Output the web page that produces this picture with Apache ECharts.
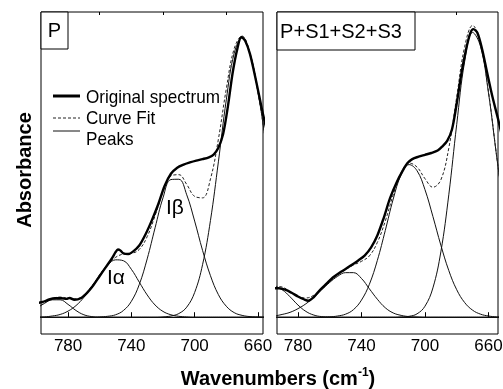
<!DOCTYPE html>
<html>
<head>
<meta charset="utf-8">
<script src="https://cdn.jsdelivr.net/npm/echarts@6/dist/echarts.min.js"></script>
<style>
  html, body { margin: 0; padding: 0; background: #fff; }
  #chart { width: 503px; height: 389px; }
</style>
</head>
<body>
<div id="chart"></div>
<script>
// wavenumber grid used by the fitted peaks (cm-1)
const wn = [800, 795, 790, 785, 780, 775, 770, 765, 760, 755, 750, 745, 740, 735, 730, 725,
  720, 715, 710, 705, 700, 695, 690, 685, 680, 675, 670, 665, 660, 655, 650];

// panel P : fitted peaks
const pPeak1 = [0.029, 0.045, 0.057, 0.057, 0.042, 0.022, 0.008, 0.002, 0, 0, 0, 0, 0, 0, 0, 0,
  0, 0, 0, 0, 0, 0, 0, 0, 0, 0, 0, 0, 0, 0, 0];
const pIalpha = [0, 0.001, 0.004, 0.009, 0.02, 0.038, 0.065, 0.1, 0.138, 0.17, 0.188, 0.185, 0.157, 0.115, 0.073, 0.04,
  0.019, 0.008, 0.003, 0.001, 0, 0, 0, 0, 0, 0, 0, 0, 0, 0, 0];
const pIbeta = [0, 0, 0, 0, 0, 0, 0, 0, 0.001, 0.003, 0.008, 0.022, 0.052, 0.107, 0.191, 0.293,
  0.391, 0.451, 0.452, 0.401, 0.315, 0.219, 0.136, 0.074, 0.036, 0.015, 0.006, 0.002, 0.001, 0, 0];
const pBig = [0, 0, 0, 0, 0, 0, 0, 0, 0, 0, 0, 0, 0, 0, 0, 0,
  0.001, 0.004, 0.012, 0.033, 0.081, 0.172, 0.317, 0.509, 0.712, 0.865, 0.915, 0.863, 0.738, 0.572, 0.403];
const pFit = [0.029, 0.046, 0.061, 0.066, 0.062, 0.06, 0.073, 0.102, 0.139, 0.173, 0.196, 0.207, 0.209, 0.222, 0.264, 0.333,
  0.411, 0.463, 0.467, 0.435, 0.396, 0.391, 0.453, 0.583, 0.748, 0.88, 0.921, 0.865, 0.739, 0.572, 0.403];
// panel P : original spectrum
const pOrigX = [800, 796, 792, 788, 784, 781, 779, 776, 772, 768, 764, 760, 756, 752, 750, 748.5, 747, 745, 742, 739,
  735, 731, 727, 723, 719, 715, 711, 707, 703, 699, 695, 691, 688, 685, 682, 679, 676, 673, 670.5, 668, 665, 661, 657, 653];
const pOrigY = [0.046, 0.05, 0.058, 0.062, 0.062, 0.06, 0.063, 0.057, 0.062, 0.08, 0.105, 0.135, 0.165, 0.195, 0.213, 0.222, 0.219, 0.209, 0.207, 0.215,
  0.235, 0.272, 0.318, 0.37, 0.43, 0.47, 0.49, 0.5, 0.507, 0.513, 0.518, 0.524, 0.533, 0.555, 0.6, 0.69, 0.8, 0.88, 0.918, 0.905, 0.862, 0.77, 0.67, 0.58];

// panel P+S1+S2+S3 : fitted peaks
const sPeak1 = [0.082, 0.097, 0.09, 0.067, 0.04, 0.019, 0.007, 0.002, 0.001, 0, 0, 0, 0, 0, 0, 0,
  0, 0, 0, 0, 0, 0, 0, 0, 0, 0, 0, 0, 0, 0, 0];
const sIalpha = [0.002, 0.004, 0.009, 0.016, 0.028, 0.044, 0.065, 0.09, 0.114, 0.134, 0.146, 0.146, 0.127, 0.093, 0.059, 0.031,
  0.014, 0.006, 0.002, 0.001, 0, 0, 0, 0, 0, 0, 0, 0, 0, 0, 0];
const sIbeta = [0, 0, 0, 0, 0, 0, 0, 0, 0.001, 0.004, 0.01, 0.025, 0.056, 0.108, 0.186, 0.284,
  0.387, 0.467, 0.5, 0.48, 0.418, 0.33, 0.236, 0.153, 0.09, 0.048, 0.023, 0.01, 0.004, 0.001, 0];
const sBig = [0, 0, 0, 0, 0, 0, 0, 0, 0, 0, 0, 0, 0, 0, 0, 0,
  0, 0.001, 0.003, 0.011, 0.036, 0.096, 0.214, 0.401, 0.632, 0.838, 0.933, 0.887, 0.735, 0.533, 0.338];
const sFit = [0.084, 0.101, 0.099, 0.083, 0.068, 0.063, 0.072, 0.092, 0.116, 0.138, 0.156, 0.171, 0.183, 0.201, 0.245, 0.315,
  0.401, 0.474, 0.505, 0.492, 0.454, 0.426, 0.45, 0.554, 0.722, 0.886, 0.956, 0.897, 0.739, 0.534, 0.338];
// panel P+S1+S2+S3 : original spectrum
const sOrigX = [800, 796, 792, 788, 784, 780, 776, 773.5, 770, 766, 762, 758, 754, 750, 746, 742, 738, 734, 730, 726,
  722, 718, 714, 711, 708, 704, 700, 696, 692, 689, 686, 683, 680, 677, 674, 671.5, 669.5, 667, 664, 661, 657.5, 654, 650];
const sOrigY = [0.09, 0.095, 0.095, 0.09, 0.08, 0.068, 0.058, 0.054, 0.066, 0.09, 0.11, 0.13, 0.145, 0.158, 0.172, 0.186, 0.202, 0.228, 0.268, 0.325,
  0.39, 0.44, 0.48, 0.505, 0.518, 0.526, 0.532, 0.538, 0.546, 0.56, 0.578, 0.615, 0.7, 0.8, 0.88, 0.93, 0.944, 0.932, 0.878, 0.805, 0.722, 0.65, 0.56];

const majorTicks = [780, 740, 700, 660];
const minorTicks = [760, 720, 680];
const panelLabels = ["P", "P+S1+S2+S3"];

const pairs = (xs, ys) => xs.map((x, i) => [x, ys[i]]);

const chart = echarts.init(document.getElementById("chart"));

const txtFont = "'Liberation Sans', Arial, sans-serif";

const xRanges = [
  [656.8, 797.1],
  [654.0, 793.2],
];

const xAxes = [];
const yAxes = [];
xRanges.forEach((r, g) => {
  xAxes.push({
    type: "value",
    gridIndex: g,
    min: r[0],
    max: r[1],
    inverse: true,
    axisLine: { lineStyle: { color: "#000", width: 1 } },
    axisTick: {
      inside: true,
      length: 5,
      customValues: majorTicks,
      lineStyle: { color: "#000" },
    },
    axisLabel: {
      customValues: majorTicks,
      margin: 4,
      fontSize: 17,
      fontFamily: txtFont,
      color: "#000",
    },
    splitLine: { show: false },
  });
  // short ticks in between
  xAxes.push({
    type: "value",
    gridIndex: g,
    min: r[0],
    max: r[1],
    inverse: true,
    axisLine: { show: false },
    axisTick: {
      inside: true,
      length: 3,
      customValues: minorTicks,
      lineStyle: { color: "#000" },
    },
    axisLabel: { show: false },
    splitLine: { show: false },
  });
  yAxes.push({
    type: "value",
    gridIndex: g,
    min: -0.055,
    max: 1,
    show: false,
  });
});

const peakLine = (data, xi, yi) => ({
  type: "line",
  xAxisIndex: xi,
  yAxisIndex: yi,
  data: data,
  smooth: 0.4,
  showSymbol: false,
  lineStyle: { color: "#111", width: 1 },
  z: 2,
});

const panelSeries = (peaks, fit, ox, oy, g) => {
  const xi = g * 2;
  const out = peaks.map((p) => peakLine(pairs(wn, p), xi, g));
  out.push({
    type: "line",
    xAxisIndex: xi,
    yAxisIndex: g,
    data: pairs(wn, fit),
    smooth: 0.4,
    showSymbol: false,
    lineStyle: { color: "#222", width: 1, type: [3, 2] },
    z: 3,
  });
  out.push({
    type: "line",
    xAxisIndex: xi,
    yAxisIndex: g,
    data: pairs(ox, oy),
    smooth: 0.3,
    showSymbol: false,
    lineStyle: { color: "#000", width: 2.4 },
    z: 4,
  });
  return out;
};

const series = [
  ...panelSeries([pPeak1, pIalpha, pIbeta, pBig], pFit, pOrigX, pOrigY, 0),
  ...panelSeries([sPeak1, sIalpha, sIbeta, sBig], sFit, sOrigX, sOrigY, 1),
];

const graphic = [
  // panel tags
  { type: "rect", shape: { x: 41, y: 12, width: 27, height: 37 }, style: { fill: "#fff", stroke: "#000", lineWidth: 1 }, z: 10 },
  { type: "text", x: 54.5, y: 31, style: { text: panelLabels[0], font: "20px " + txtFont, fill: "#000", align: "center", verticalAlign: "middle" }, z: 11 },
  { type: "rect", shape: { x: 277, y: 12, width: 138, height: 38 }, style: { fill: "#fff", stroke: "#000", lineWidth: 1 }, z: 10 },
  { type: "text", x: 341, y: 32, style: { text: panelLabels[1], font: "20px " + txtFont, fill: "#000", align: "center", verticalAlign: "middle" }, z: 11 },
  // legend
  { type: "line", shape: { x1: 53, y1: 96, x2: 80, y2: 96 }, style: { stroke: "#000", lineWidth: 3 } },
  { type: "line", shape: { x1: 53, y1: 118, x2: 80, y2: 118 }, style: { stroke: "#222", lineWidth: 1, lineDash: [3, 2] } },
  { type: "line", shape: { x1: 53, y1: 131, x2: 80, y2: 131 }, style: { stroke: "#111", lineWidth: 1 } },
  { type: "text", x: 86, y: 98, scaleX: 0.9, style: { text: "Original spectrum", font: "19px " + txtFont, fill: "#000", verticalAlign: "middle" } },
  { type: "text", x: 86, y: 119, scaleX: 0.9, style: { text: "Curve Fit", font: "19px " + txtFont, fill: "#000", verticalAlign: "middle" } },
  { type: "text", x: 86, y: 140, scaleX: 0.9, style: { text: "Peaks", font: "19px " + txtFont, fill: "#000", verticalAlign: "middle" } },
  // peak names
  { type: "text", x: 107, y: 268, style: { text: "Iα", font: "21px " + txtFont, fill: "#000" } },
  { type: "text", x: 166, y: 198, style: { text: "Iβ", font: "21px " + txtFont, fill: "#000" } },
  // axis titles
  {
    type: "text", x: 25, y: 170, rotation: Math.PI / 2,
    style: { text: "Absorbance", font: "bold 20px " + txtFont, fill: "#000", align: "center", verticalAlign: "middle" },
  },
  {
    type: "text", x: 278, y: 379,
    style: {
      text: "{a|Wavenumbers (cm}{s|-1}{a|)}",
      align: "center",
      verticalAlign: "middle",
      rich: {
        a: { font: "bold 20px " + txtFont, fill: "#000", lineHeight: 24 },
        s: { font: "bold 12px " + txtFont, fill: "#000", lineHeight: 24, verticalAlign: "top" },
      },
    },
  },
];

const options = {
  animation: false,
  backgroundColor: "#fff",
  grid: [
    { left: 41, top: 12, width: 222, height: 322, show: true, borderColor: "#000", borderWidth: 1, outerBoundsMode: "none", containLabel: false },
    { left: 277, top: 12, width: 221, height: 322, show: true, borderColor: "#000", borderWidth: 1, outerBoundsMode: "none", containLabel: false },
  ],
  xAxis: xAxes,
  yAxis: yAxes,
  series: series,
  graphic: graphic,
};

chart.setOption(options);

window.addEventListener("resize", () => chart.resize());
</script>
</body>
</html>
